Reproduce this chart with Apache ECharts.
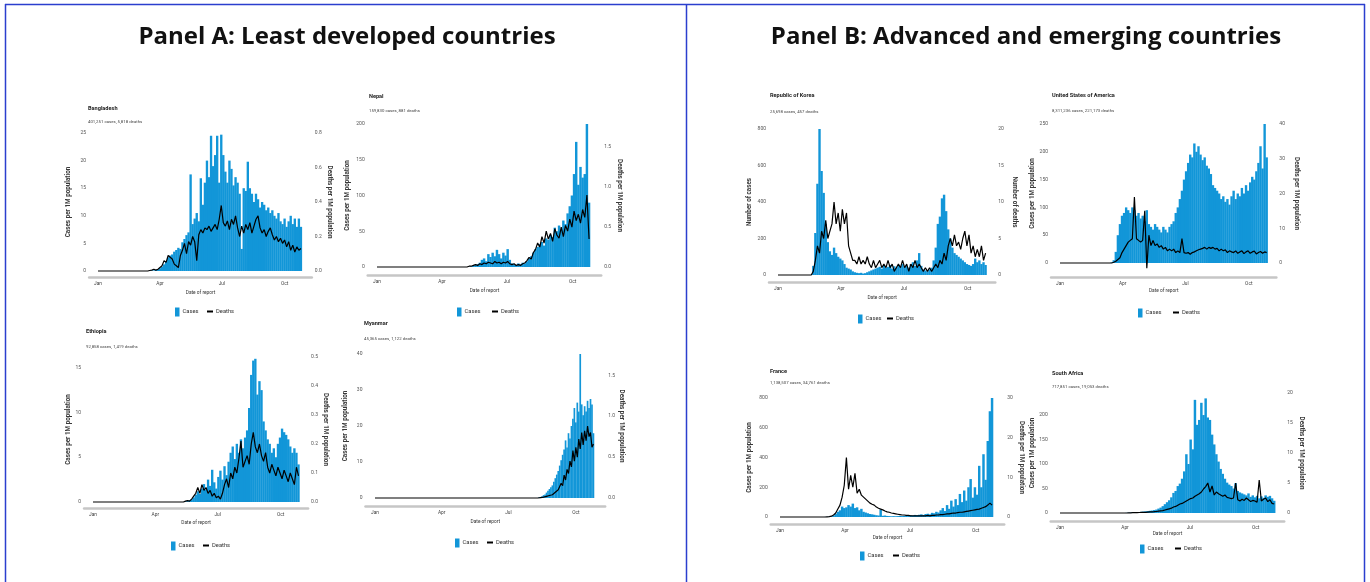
<!DOCTYPE html>
<html><head><meta charset="utf-8">
<script src="https://cdn.jsdelivr.net/npm/echarts@6/dist/echarts.min.js"></script>
<style>html,body{margin:0;padding:0;background:#fff}#c{width:1370px;height:582px}</style>
</head><body><div id="c"></div>
<script>
// ---------- DATA ----------
const panelTitles = ['Panel A: Least developed countries', 'Panel B: Advanced and emerging countries'];
const monthTicks = [0, 91, 182, 274];           // day of year of 1 Jan, 1 Apr, 1 Jul, 1 Oct
const monthLabels = ['Jan', 'Apr', 'Jul', 'Oct'];
const countries = ['Bangladesh', 'Nepal', 'Ethiopia', 'Myanmar', 'Republic of Korea', 'United States of America', 'France', 'South Africa'];
const subtitles = ['401,251 cases, 5,818 deaths', '159,830 cases, 881 deaths', '92,858 cases, 1,419 deaths', '45,365 cases, 1,122 deaths',
  '25,698 cases, 457 deaths', '8,311,236 cases, 221,173 deaths', '1,138,507 cases, 34,761 deaths', '717,851 cases, 19,053 deaths'];
const leftNames = ['Cases per 1M population', 'Cases per 1M population', 'Cases per 1M population', 'Cases per 1M population',
  'Number of cases', 'Cases per 1M population', 'Cases per 1M population', 'Cases per 1M population'];
const rightNames = ['Deaths per 1M population', 'Deaths per 1M population', 'Deaths per 1M population', 'Deaths per 1M population',
  'Number of deaths', 'Deaths per 1M population', 'Deaths per 1M population', 'Deaths per 1M population'];

// each series: first day (day of year), sampling step in days, values
const bdStart = 64, bdStep = 3;
const bdCases = [0,0,0,0,0,0.1,0.1,0.2,0.3,0.5, 0.8,1.2,1.8,2.5,2.8,3.0,3.5,3.8,4.2,4.0, 5.2,5.8,6.5,7.0,17.5,8.5,9.5,10.5,9.0,16.8,
  12,16,20,17,24.5,19,21,24.5,16,24.7, 21,18,16,20,18.5,15.5,17,16,14,4, 15,14.5,19.8,15,14,12.5,14,13,11.5,12.5,
  12,11,11.5,10.5,11,10,9.5,10.5,9,8.5, 9.5,8,9,10,8.5,9.5,8,9.5,8];
const bdDeaths = [0,0,0,0,0.003,0.005,0.01,0.005,0.01,0.02, 0.03,0.06,0.05,0.09,0.08,0.07,0.04,0.03,0.02,0.09,
  0.12,0.16,0.10,0.17,0.15,0.20,0.17,0.06,0.21,0.24, 0.22,0.25,0.24,0.26,0.23,0.25,0.27,0.24,0.30,0.38,
  0.28,0.26,0.29,0.24,0.30,0.27,0.32,0.25,0.20,0.26, 0.22,0.27,0.24,0.28,0.22,0.26,0.30,0.32,0.25,0.22,
  0.24,0.20,0.23,0.25,0.21,0.18,0.20,0.17,0.19,0.16, 0.18,0.14,0.17,0.12,0.15,0.11,0.14,0.12,0.13];

const npStart = 120, npStep = 3;
const npCases = [0,0,0,0.5,1,2,3,4,6,10, 12,8,18,14,20,15,24,18,12,20, 16,25,10,5,4,3,5,4,6,5,
  8,12,15,20,25,28,32,35,30,40, 38,45,42,55,50,58,52,65,60,75, 85,100,130,175,115,140,125,130,200,90];
const npDeaths = [0,0,0,0.01,0.01,0.02,0.03,0.02,0.04,0.03, 0.05,0.04,0.06,0.05,0.04,0.07,0.05,0.06,0.04,0.06,
  0.05,0.07,0.04,0.03,0.04,0.02,0.03,0.02,0.04,0.05, 0.08,0.12,0.10,0.18,0.22,0.30,0.25,0.38,0.30,0.45,
  0.35,0.42,0.32,0.48,0.40,0.36,0.50,0.38,0.52,0.45, 0.60,0.50,0.70,0.58,0.66,0.55,0.72,0.62,0.90,0.35];

const etStart = 132, etStep = 3;
const etCases = [0,0.1,0.1,0.2,0.3,0.5,0.8,1.2,0.9,1.5, 2.0,1.4,2.5,1.8,3.6,2.2,1.5,2.8,3.5,2.5,
  4.0,3.0,4.5,5.5,6.2,4.8,6.5,5.5,7.0,6.0, 7.2,8.0,10.5,14.2,15.8,16.0,12.0,13.5,12.5,9.0,
  8.0,7.0,6.5,5.5,6.0,5.0,6.5,7.2,8.2,7.8, 7.5,7.0,6.2,5.5,6.0,5.5,4.2];
const etDeaths = [0,0.003,0.005,0.003,0.01,0.02,0.03,0.05,0.03,0.06, 0.04,0.05,0.03,0.04,0.02,0.03,0.015,0.02,0.01,0.03,
  0.06,0.08,0.05,0.10,0.08,0.12,0.10,0.15,0.21,0.12, 0.14,0.16,0.13,0.20,0.24,0.19,0.17,0.20,0.16,0.14,
  0.17,0.12,0.10,0.13,0.11,0.09,0.12,0.10,0.08,0.11, 0.09,0.07,0.10,0.08,0.06,0.12,0.09];

const mmStart = 222, mmStep = 2;
const mmCases = [0,0.2,0.3,0.5,0.8,1.0,1.5,2.0,2.5,3.0, 3.5,4.5,5.5,6.5,7.5,9.0,10.5,12.0,13.5,16.0,
  14.0,18.0,16.5,20.0,22.0,25.0,21.0,26.5,24.0,40.0, 26.0,23.0,25.5,24.0,27.0,25.0,27.5,26.0,18.0];
const mmDeaths = [0,0,0.005,0.01,0.01,0.015,0.02,0.02,0.03,0.04, 0.04,0.05,0.07,0.08,0.10,0.12,0.18,0.15,0.28,0.22,
  0.35,0.30,0.45,0.38,0.58,0.45,0.62,0.50,0.72,0.60, 0.80,0.65,0.82,0.70,0.88,0.75,0.80,0.62,0.66];

const krStart = 48, krStep = 3;
const krCases = [0,50,230,500,800,570,450,280,180,130, 110,150,120,100,90,80,60,40,35,30,
  20,15,12,10,12,8,10,15,20,25, 30,35,40,45,35,50,40,45,55,35, 48,40,55,50,60,45,50,40,60,70,
  50,80,120,50,30,25,20,30,40,80, 150,280,320,420,440,350,250,200,150,120, 110,100,90,80,70,60,55,50,60,90,
  70,80,60,70,55];
const krDeaths = [0,0.5,2,4,3,6,5,7.5,5,6, 7,10,7,8.5,6,9,7,8.5,4,3, 2,2,1.5,2.5,1.5,2,1.5,2.5,1.5,1,
  2,1,1.5,2,1,1.5,1,2,1,1.5, 0.5,1,1.5,1,2,1,1.5,0.5,1.5,1, 2,1,1.5,1,0.5,1,0.5,1,0.5,1,
  1.5,1,2,1.5,3,2,4,5,4,5.5, 4,4.5,3.5,5,6,4,5.5,3,4,2.5, 3.5,2.5,4,2,3];

const usStart = 72, usStep = 3;
const usCases = [0,1,5,20,50,70,85,90,100,95, 90,100,95,85,90,80,85,75,95,70, 65,60,70,65,60,55,65,60,55,65,
  70,75,90,100,115,130,150,165,180,195, 190,215,200,210,195,185,190,175,170,160,
  140,135,130,125,115,120,110,115,105,120, 130,115,125,120,135,125,140,130,145,155, 150,165,180,210,170,250,190];
const usDeaths = [0,0,0.2,0.5,1,1.5,3,4,5,6, 6.5,7,19,7,6.5,6,6.5,15,-1.5,8, 5,6.5,5,5.5,4.5,5,4,4.5,3.5,4,
  3.5,4,3,3.5,3,7,3,2.8,3,2.5, 3,3.2,3.5,3.8,4,4.2,4.5,4,4.5,4.2, 4.5,4,4.2,3.5,4,3.5,3.8,3,3.5,3.2,
  3,3.5,2.8,3.2,3.5,2.7,3.2,3.5,2.8,3.2, 3.4,2.6,3,3.3,2.8,3.2,3];

const frStart = 60, frStep = 3;
const frCases = [0,0.5,1,2,5,10,20,35,45,70, 60,65,80,70,90,60,65,45,55,35, 30,25,20,18,15,12,10,50,8,10,
  7,6,5,6,5,6,7,6,8,10, 9,12,10,14,12,15,18,14,20,22, 18,28,25,35,30,45,60,40,80,55,
  110,70,120,80,155,100,178,110,200,255, 130,200,150,344,200,422,250,511,711,800];
const frDeaths = [0,0,0.05,0.1,0.2,0.5,1,2,3,5, 8,15,7,10.5,7.5,11,6,7,5.5,5, 4.5,4,3.5,3.2,3,2.5,2.2,2,1.8,1.5,
  1.3,1.2,1,0.9,0.8,0.7,0.6,0.5,0.5,0.4, 0.4,0.3,0.3,0.3,0.3,0.3,0.3,0.3,0.3,0.4, 0.3,0.4,0.4,0.5,0.5,0.6,0.6,0.7,0.8,0.8,
  0.9,1,1,1.1,1.2,1.2,1.3,1.4,1.5,1.6, 1.7,1.8,1.9,2,2.2,2.4,2.6,3,3.5,3];

const zaStart = 90, zaStep = 3;
const zaCases = [0,0.3,0.5,0.8,1,1.5,1.8,2,2.5,3, 3.5,4,4.5,5,6,7,9,11,14,18, 22,26,32,41,45,55,60,70,85,120,
  100,150,130,231,180,190,225,200,234,195, 190,160,140,120,105,90,80,70,62,58, 55,50,61,45,42,40,38,36,40,33,
  36,32,35,30,34,31,36,33,35,30, 25];
const zaDeaths = [0,0,0.02,0.03,0.05,0.05,0.07,0.08,0.1,0.1, 0.12,0.15,0.18,0.2,0.22,0.25,0.3,0.35,0.4,0.5,
  0.6,0.7,0.8,1,1.1,1.3,1.5,1.6,1.8,2, 2.2,2.4,2.5,2.8,3,3.2,3.5,4,4.4,5, 3.5,4.5,3,3.5,3.2,3,2.8,3,2.6,2.5,
  2.4,2.5,5,2.2,2,2.3,2.1,2.5,2.2,1.9, 2.1,2,1.8,5.5,2,2.3,2.5,1.9,2.2,1.6, 1.5];

const seriesData = [
  [bdStart, bdStep, bdCases, bdDeaths], [npStart, npStep, npCases, npDeaths],
  [etStart, etStep, etCases, etDeaths], [mmStart, mmStep, mmCases, mmDeaths],
  [krStart, krStep, krCases, krDeaths], [usStart, usStep, usCases, usDeaths],
  [frStart, frStep, frCases, frDeaths], [zaStart, zaStep, zaCases, zaDeaths]
];
// axis scales: [left max, left interval, right max, right interval, right decimals]
const scales = [[25,5,0.8,0.2,1],[200,50,1.79,0.5,1],[16.2,5,0.5,0.1,1],[40,10,1.76,0.5,1],
  [800,200,20,5,0],[250,50,40,10,0],[800,200,30,10,0],[245,50,20,5,0]];

// ---------- LAYOUT (positions only) ----------
const L = [
  {jan:98,  s:0.681, top:133, bot:271, off:6,  lg:17.7, rg:15,   xg:13.5, tx:88,  ty:109, sy:122, c1:175,  c2:207,  ly:312},
  {jan:377, s:0.714, top:124, bot:267, off:8,  lg:17.4, rg:15.5, xg:13.5, tx:369, ty:97,  sy:111, c1:457,  c2:492,  ly:312},
  {jan:93,  s:0.685, top:357, bot:502, off:6,  lg:12.8, rg:14.6, xg:12.5, tx:86,  ty:332, sy:347, c1:171,  c2:203,  ly:546},
  {jan:375, s:0.733, top:354, bot:498, off:8,  lg:17.2, rg:13.5, xg:13.5, tx:364, ty:324, sy:339, c1:455,  c2:487,  ly:543},
  {jan:778, s:0.692, top:129, bot:275, off:7,  lg:16.7, rg:16.4, xg:13.5, tx:770, ty:96,  sy:112, c1:858,  c2:887,  ly:319},
  {jan:1060,s:0.689, top:124, bot:263, off:14, lg:15.7, rg:17.4, xg:11.5, tx:1052,ty:96,  sy:111, c1:1138, c2:1173, ly:313},
  {jan:780, s:0.714, top:398, bot:517, off:7,  lg:18.4, rg:14.5, xg:11.5, tx:770, ty:372, sy:383, c1:860,  c2:893,  ly:556},
  {jan:1060,s:0.714, top:393, bot:513, off:8,  lg:14.4, rg:14.5, xg:8.5,  tx:1052,ty:374, sy:387, c1:1140, c2:1175, ly:549}
];
const X_MIN = -13, X_MAX = 314;
const BLUE = '#1296d8';
const FONT = 'Roboto, "Liberation Sans", sans-serif';

const grid = [], xAxis = [], yAxis = [], series = [], legend = [], title = [];
function fmtTick(interval, dec) {
  return function (v) {
    const k = v / interval;
    if (Math.abs(k - Math.round(k)) > 1e-6) return '';
    return dec ? v.toFixed(dec) : String(Math.round(v));
  };
}
panelTitles.forEach((t, p) => {
  title.push({text: t, left: p === 0 ? 347 : 1026, top: 25, textAlign: 'center', padding: 0,
    textStyle: {fontFamily: '"Open Sans", "Noto Sans", sans-serif', fontWeight: 'bold', fontSize: 24, color: '#111'}});
});
L.forEach((g, i) => {
  const gl = g.jan + X_MIN * g.s, gw = (X_MAX - X_MIN) * g.s;
  const [lMax, lInt, rMax, rInt, rDec] = scales[i];
  grid.push({left: gl, top: g.top, width: gw, height: g.bot - g.top, containLabel: false});
  xAxis.push({type: 'value', gridIndex: i, min: X_MIN, max: X_MAX, offset: g.off,
    axisLine: {show: true, onZero: false, lineStyle: {color: '#c6c6c6', width: 2.5}},
    axisTick: {show: false}, splitLine: {show: false},
    axisLabel: {customValues: monthTicks, formatter: v => monthLabels[monthTicks.indexOf(v)] || '',
      fontSize: 4.8, color: '#444', margin: 4, fontFamily: FONT},
    name: 'Date of report', nameLocation: 'middle', nameGap: g.xg,
    nameTextStyle: {fontSize: 4.8, color: '#333', fontFamily: FONT}});
  yAxis.push({type: 'value', gridIndex: i, position: 'left', min: 0, max: lMax, interval: lInt,
    axisLine: {show: false}, axisTick: {show: false}, splitLine: {show: false},
    axisLabel: {formatter: fmtTick(lInt, 0), fontSize: 5, color: '#555', margin: 3, fontFamily: FONT},
    name: leftNames[i], nameLocation: 'middle', nameRotate: 90, nameGap: g.lg,
    nameTextStyle: {fontSize: 6.3, fontWeight: 'bold', color: '#3a3a3a', fontFamily: FONT}});
  yAxis.push({type: 'value', gridIndex: i, position: 'right', min: 0, max: rMax, interval: rInt,
    axisLine: {show: false}, axisTick: {show: false}, splitLine: {show: false},
    axisLabel: {formatter: fmtTick(rInt, rDec), fontSize: 5, color: '#555', margin: 3, fontFamily: FONT},
    name: rightNames[i], nameLocation: 'middle', nameRotate: -90, nameGap: g.rg,
    nameTextStyle: {fontSize: 6.3, fontWeight: 'bold', color: '#3a3a3a', fontFamily: FONT}});
  const [start, step, cases, deaths] = seriesData[i];
  const toXY = arr => [[0, 0]].concat(arr.map((v, k) => [start + k * step, v]));
  series.push({name: 'Cases', type: 'bar', xAxisIndex: i, yAxisIndex: 2 * i, data: toXY(cases),
    barWidth: step * g.s * 1.15, itemStyle: {color: BLUE}, silent: true, animation: false});
  series.push({name: 'Deaths', type: 'line', xAxisIndex: i, yAxisIndex: 2 * i + 1, data: toXY(deaths),
    showSymbol: false, symbol: 'none', clip: false, lineStyle: {color: '#000', width: 1.2},
    itemStyle: {color: '#000'}, silent: true, animation: false});
  title.push({text: countries[i], left: g.tx, top: g.ty - 3.5, padding: 0,
    textStyle: {fontSize: 5.6, fontWeight: 'bold', color: '#222', fontFamily: FONT}});
  title.push({text: subtitles[i], left: g.tx, top: g.sy - 2.5, padding: 0,
    textStyle: {fontSize: 4.3, fontWeight: 'normal', color: '#444', fontFamily: FONT}});
  legend.push({data: ['Cases'], left: g.c1, top: g.ly - 4.5, padding: 0, itemGap: 2, icon: 'rect',
    itemWidth: 4.5, itemHeight: 9, selectedMode: false,
    textStyle: {fontSize: 5.8, color: '#333', fontFamily: FONT, padding: [0, 0, 0, -2]}});
  legend.push({data: ['Deaths'], left: g.c2, top: g.ly - 3.5, padding: 0, itemGap: 2, icon: 'rect',
    itemWidth: 6, itemHeight: 2, selectedMode: false,
    textStyle: {fontSize: 5.8, color: '#333', fontFamily: FONT, padding: [0, 0, 0, -2]}});
});

const chart = echarts.init(document.getElementById('c'), null, {renderer: 'canvas'});
chart.setOption({
  backgroundColor: '#fff', animation: false,
  title, grid, xAxis, yAxis, series, legend,
  graphic: [
    {type: 'line', shape: {x1: 5, y1: 4.5, x2: 1365, y2: 4.5}, style: {stroke: '#2b3fce', lineWidth: 1.5}},
    {type: 'line', shape: {x1: 5.5, y1: 4, x2: 5.5, y2: 582}, style: {stroke: '#2b3fce', lineWidth: 1.5}},
    {type: 'line', shape: {x1: 686.5, y1: 4, x2: 686.5, y2: 582}, style: {stroke: '#2b3fce', lineWidth: 1.5}},
    {type: 'line', shape: {x1: 1364.5, y1: 4, x2: 1364.5, y2: 582}, style: {stroke: '#2b3fce', lineWidth: 1.5}}
  ]
});
</script></body></html>
